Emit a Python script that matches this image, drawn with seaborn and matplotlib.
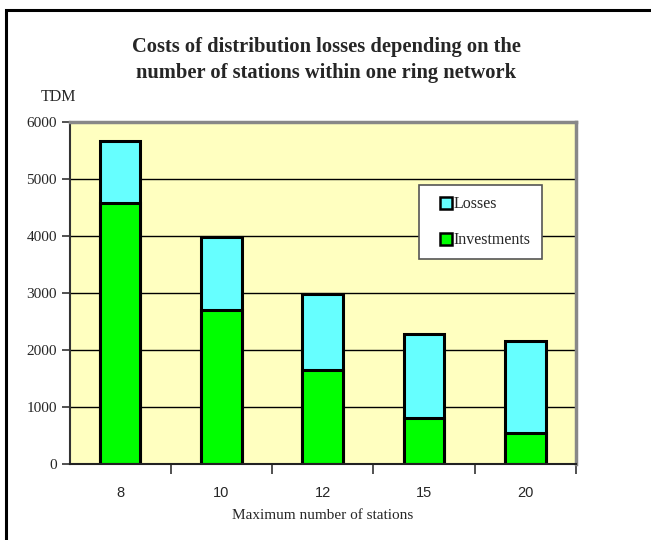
import matplotlib
matplotlib.use("Agg")
import matplotlib.pyplot as plt
import seaborn as sns
import pandas as pd
import numpy as np
from matplotlib.patches import Rectangle
from matplotlib.lines import Line2D

# Chart data
stations = ["8", "10", "12", "15", "20"]
investments = [4580, 2710, 1650, 810, 550]
losses = [1090, 1280, 1330, 1465, 1615]
y_ticks = [0, 1000, 2000, 3000, 4000, 5000, 6000]

title = "Costs of distribution losses depending on the\nnumber of stations within one ring network"
y_unit = "TDM"
x_title = "Maximum number of stations"

COL_LOSS = "#66FFFF"
COL_INV = "#00FF00"
COL_BG = "#FFFFC0"

df = pd.DataFrame({"stations": stations, "investments": investments, "losses": losses})
df["total"] = df["investments"] + df["losses"]

sns.set_theme(style="white")
plt.rcParams["font.family"] = ["Liberation Serif", "DejaVu Serif"]

fig = plt.figure(figsize=(6.51, 5.40), dpi=100)
W, H = 651, 540
ax = fig.add_axes([69.5 / W, 1 - 464 / H, (576 - 69.5) / W, (464 - 122) / H])
ax.set_facecolor(COL_BG)

# grid lines behind the bars
for v in y_ticks[1:-1]:
    ax.axhline(v, color="black", lw=1.0, zorder=0.5)

# stacked bars: full height (losses on top) then investments over it
sns.barplot(data=df, x="stations", y="total", color=COL_LOSS, saturation=1,
            width=0.4, edgecolor="black", linewidth=2.2, ax=ax, zorder=2)
sns.barplot(data=df, x="stations", y="investments", color=COL_INV, saturation=1,
            width=0.4, edgecolor="black", linewidth=2.2, ax=ax, zorder=3)

ax.set_xlim(-0.5, len(stations) - 0.5)
ax.set_ylim(0, 6000)
ax.set_yticks(y_ticks)
ax.set_yticklabels([str(v) for v in y_ticks], fontsize=11, family="Liberation Serif")
ax.tick_params(axis="y", direction="out", length=6, width=1.2, color="#333333", pad=3, left=True)

ax.set_xticks(range(len(stations)))
ax.set_xticklabels(stations, fontsize=10.5, family="Liberation Sans")
ax.tick_params(axis="x", which="major", length=0, pad=16)
ax.set_xticks(np.arange(0.5, len(stations), 1.0), minor=True)
ax.tick_params(axis="x", which="minor", direction="out", length=7, width=1.2, color="#333333", bottom=True)

ax.set_xlabel(x_title, fontsize=11, labelpad=6, family="Liberation Serif")
ax.set_ylabel("")

for side in ["top", "right"]:
    ax.spines[side].set_color("#888888")
    ax.spines[side].set_linewidth(2.5)
ax.spines["left"].set_color("#333333")
ax.spines["left"].set_linewidth(1.5)
ax.spines["bottom"].set_color("#222222")
ax.spines["bottom"].set_linewidth(1.5)
for s in ax.spines.values():
    s.set_zorder(4)

fig.text(326 / W, 1 - 60 / H, title, ha="center", va="center", fontsize=14.8,
         fontweight="bold", linespacing=1.38, family="Liberation Serif")
fig.text(58 / W, 1 - 97 / H, y_unit, ha="center", va="center", fontsize=11.5,
         family="Liberation Serif")

handles = [
    Line2D([], [], marker="s", linestyle="none", markersize=8, markerfacecolor=COL_LOSS,
           markeredgecolor="black", markeredgewidth=1.8),
    Line2D([], [], marker="s", linestyle="none", markersize=8, markerfacecolor=COL_INV,
           markeredgecolor="black", markeredgewidth=1.8),
]
leg = fig.legend(handles, ["Losses", "Investments"], loc="upper left",
                 bbox_to_anchor=(419 / W, 1 - 185 / H), frameon=True, fancybox=False,
                 framealpha=1, edgecolor="#555555",
                 handlelength=2.0, handletextpad=-0.55, labelspacing=1.25,
                 borderpad=0.7, borderaxespad=0, prop={"family": "Liberation Serif", "size": 11.5})
leg.get_frame().set_linewidth(1.2)
leg.set_zorder(10)

# outer frame of the chart
fig.add_artist(Rectangle((6 / W, -0.05), 1.2, 1 - 10 / H + 0.05, transform=fig.transFigure,
                         fill=False, edgecolor="black", linewidth=2.2))

fig.savefig("out.png", dpi=100)
